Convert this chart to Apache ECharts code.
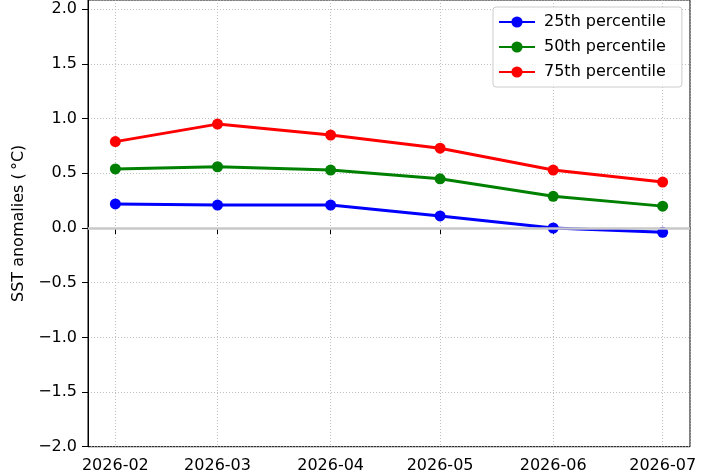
<!DOCTYPE html>
<html>
<head>
<meta charset="utf-8">
<script src="https://cdn.jsdelivr.net/npm/echarts@6/dist/echarts.min.js"></script>
<style>
html,body{margin:0;padding:0;background:#fff;}
#chart{width:710px;height:473px;}
</style>
</head>
<body>
<div id="chart"></div>
<script>
const months = ['2026-02', '2026-03', '2026-04', '2026-05', '2026-06', '2026-07'];
const p25 = [0.22, 0.21, 0.21, 0.11, 0.00, -0.04];
const p50 = [0.54, 0.56, 0.53, 0.45, 0.29, 0.20];
const p75 = [0.79, 0.95, 0.85, 0.73, 0.53, 0.42];
const seriesNames = ['25th percentile', '50th percentile', '75th percentile'];
const yTicks = [-2.0, -1.5, -1.0, -0.5, 0.0, 0.5, 1.0, 1.5, 2.0];

const FONT = 'DejaVu Sans';
const DAY = 86400000;
function t(m) { const [y, mo] = m.split('-').map(Number); return new Date(y, mo - 1, 1).getTime(); }
const xMin = t(months[0]) - 7.5 * DAY;
const xMax = t(months[months.length - 1]) + 7.5 * DAY;

function pts(vals) { return months.map((m, i) => [t(m), vals[i]]); }
function fmtY(v) {
  const ok = yTicks.some(tk => Math.abs(tk - v) < 1e-6);
  if (!ok) return '';
  return v.toFixed(1).replace('-', '\u2212');
}

const chart = echarts.init(document.getElementById('chart'), null, {renderer: 'canvas'});
const colors = ['#0000ff', '#008000', '#ff0000'];
const datas = [p25, p50, p75];

chart.setOption({
  animation: false,
  backgroundColor: '#fff',
  grid: {left: 88, right: 20, top: 0, bottom: 26.3, outerBoundsMode: 'none', containLabel: false,
         show: true, borderColor: '#000', borderWidth: 1, backgroundColor: 'transparent'},
  legend: {
    orient: 'vertical',
    left: 493, top: 7,
    padding: [7, 16, 7, 5],
    itemWidth: 36, itemHeight: 14, itemGap: 9,
    backgroundColor: 'rgba(255,255,255,0.85)',
    borderColor: '#cccccc', borderWidth: 1, borderRadius: 3,
    textStyle: {fontFamily: FONT, fontSize: 16, lineHeight: 16, color: '#000', padding: [0,0,0,4]},
    data: seriesNames
  },
  xAxis: {
    type: 'time',
    min: xMin, max: xMax,
    splitNumber: 5,
    axisLine: {show: true, lineStyle: {color: '#000', width: 1}},
    axisTick: {show: true, length: 6, lineStyle: {color: '#000', width: 1}},
    axisLabel: {fontFamily: FONT, fontSize: 16, color: '#000', margin: 11, formatter: '{yyyy}-{MM}', showMinLabel: false, showMaxLabel: false, hideOverlap: false},
    splitLine: {show: true, lineStyle: {color: '#b0b0b0', width: 0.8, type: [1, 2]}},
    minorTick: {show: false}
  },
  yAxis: {
    type: 'value',
    min: -2, max: 2.085, interval: 0.5,
    name: 'SST anomalies (\u2009\u00b0C)',
    nameLocation: 'middle', nameGap: 57, nameRotate: 90,
    nameTextStyle: {fontFamily: FONT, fontSize: 16, color: '#000'},
    axisLine: {show: true, lineStyle: {color: '#000', width: 1}},
    axisTick: {show: true, length: 6, lineStyle: {color: '#000', width: 1}},
    axisLabel: {fontFamily: FONT, fontSize: 16, color: '#000', margin: 11, formatter: fmtY, showMaxLabel: false},
    splitLine: {show: true, lineStyle: {color: '#b0b0b0', width: 0.8, type: [1, 2]}}
  },
  series: datas.map((d, i) => ({
    name: seriesNames[i],
    type: 'line',
    data: pts(d),
    symbol: 'circle',
    symbolSize: 11,
    showAllSymbol: true,
    color: colors[i],
    lineStyle: {color: colors[i], width: 3},
    itemStyle: {color: colors[i]},
    z: 3 + i,
    markLine: i === 0 ? {
      silent: true, symbol: 'none', label: {show: false},
      lineStyle: {color: '#c8c8c8', width: 2.5, type: 'solid'},
      data: [{yAxis: 0}]
    } : undefined
  }))
});
</script>
</body>
</html>
